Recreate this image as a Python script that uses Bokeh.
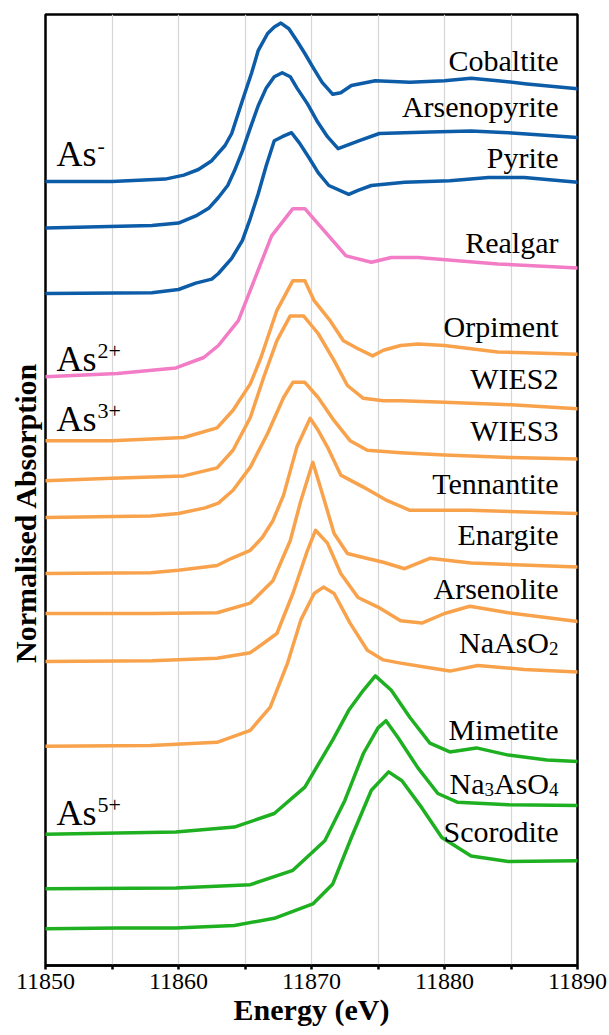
import numpy as np
from bokeh.plotting import figure
from bokeh.models import Range1d, FixedTicker, Label
from bokeh.embed import file_html
from bokeh.resources import INLINE

# ---- As K-edge XANES of reference compounds (energy in eV, normalised absorption) ----
e_cobaltite = [11850, 11855, 11859, 11860.4, 11861.5, 11862.5, 11863.5, 11864, 11864.8, 11865.5,
               11866, 11866.7, 11867.2, 11867.7, 11868.3, 11868.9, 11869.5, 11870.1, 11870.8,
               11871.6, 11872.2, 11873, 11874.8, 11877.4, 11880, 11882, 11884, 11886.2, 11890]
mu_cobaltite = [0, 0, 0.03, 0.08, 0.15, 0.26, 0.45, 0.6, 1.01, 1.36,
                1.64, 1.85, 1.93, 1.98, 1.91, 1.76, 1.6, 1.43, 1.24,
                1.09, 1.11, 1.2, 1.26, 1.24, 1.26, 1.29, 1.26, 1.22, 1.16]

e_arsenopyrite = [11850, 11858, 11860, 11861.3, 11862.3, 11863, 11863.7, 11864.2, 11864.8, 11865.4,
                  11866, 11866.6, 11867.2, 11867.8, 11868.4, 11868.9, 11869.7, 11870.4, 11871.2,
                  11872, 11872.8, 11873.6, 11875.1, 11878.9, 11882, 11884.8, 11890]
mu_arsenopyrite = [0, 0.03, 0.06, 0.15, 0.25, 0.38, 0.53, 0.71, 0.96, 1.25,
                   1.53, 1.75, 1.89, 1.94, 1.89, 1.75, 1.55, 1.34, 1.14,
                   0.99, 1.04, 1.09, 1.18, 1.2, 1.21, 1.19, 1.13]

e_pyrite = [11850, 11858, 11860, 11861.3, 11862.5, 11863, 11864, 11864.8, 11865.4, 11866,
            11866.6, 11867.2, 11867.8, 11868.5, 11869.1, 11869.8, 11870.5, 11871.3, 11872.8,
            11873.5, 11874.5, 11877, 11880.4, 11883.3, 11886, 11890]
mu_pyrite = [0, 0.01, 0.05, 0.13, 0.18, 0.25, 0.44, 0.66, 0.94, 1.25,
             1.6, 1.91, 1.96, 2.01, 1.88, 1.7, 1.51, 1.35, 1.24,
             1.29, 1.35, 1.39, 1.41, 1.45, 1.45, 1.39]

e_realgar = [11850, 11855.4, 11859.8, 11861.9, 11863, 11864.5, 11867, 11868.6, 11869.5,
             11872.6, 11874.5, 11876, 11878, 11884, 11890]
mu_realgar = [0, 0.04, 0.11, 0.24, 0.39, 0.7, 1.76, 2.1, 2.1,
              1.51, 1.43, 1.49, 1.49, 1.41, 1.36]

e_orpiment = [11850, 11855, 11860.4, 11862.9, 11864.1, 11865.4, 11866.2, 11867.4, 11868.6, 11869.5,
              11870.2, 11871.4, 11872.4, 11873.5, 11874.6, 11875.4, 11876.7, 11878, 11880, 11884, 11890]
mu_orpiment = [0, 0, 0.04, 0.16, 0.38, 0.71, 1.04, 1.63, 2.0, 2.0,
               1.75, 1.5, 1.25, 1.15, 1.06, 1.13, 1.19, 1.21, 1.19, 1.11, 1.08]

e_wies2 = [11850, 11855, 11860.4, 11862.9, 11864.1, 11865.4, 11866.4, 11867.4, 11868.4, 11869.4,
           11870.5, 11871.7, 11872.7, 11873.9, 11875.4, 11876.7, 11880, 11885, 11890]
mu_wies2 = [0, 0.03, 0.06, 0.16, 0.38, 0.79, 1.29, 1.75, 2.06, 2.06,
            1.84, 1.5, 1.19, 1.03, 1.0, 1.0, 0.98, 0.95, 0.9]

e_wies3 = [11850, 11857.9, 11860, 11862, 11863, 11864.1, 11865.4, 11866.7, 11867.9, 11868.6, 11869.5,
           11870.5, 11871.7, 11872.9, 11874.2, 11876.7, 11880, 11885, 11890]
mu_wies3 = [0, 0.02, 0.05, 0.12, 0.18, 0.34, 0.63, 1.05, 1.5, 1.69, 1.69,
            1.5, 1.21, 0.96, 0.84, 0.81, 0.78, 0.75, 0.73]

e_tennantite = [11850, 11857.9, 11860, 11862.9, 11864, 11865.4, 11866.3, 11867.1, 11867.9, 11868.9,
                11869.9, 11870.5, 11871.2, 11872.2, 11873.9, 11875.7, 11877.4, 11881.9, 11890]
mu_tennantite = [0, 0.01, 0.04, 0.1, 0.19, 0.29, 0.45, 0.66, 0.98, 1.58,
                 1.94, 1.79, 1.58, 1.23, 1.08, 0.91, 0.79, 0.79, 0.75]

e_enargite = [11850, 11858, 11862.9, 11865.4, 11867.1, 11868.4, 11869.2, 11870.1, 11870.9, 11871.7,
              11872.7, 11873.9, 11875.4, 11877, 11878.9, 11880.5, 11882, 11890]
mu_enargite = [0, 0, 0.01, 0.13, 0.41, 0.91, 1.41, 1.89, 1.45, 1.0,
               0.75, 0.7, 0.64, 0.56, 0.69, 0.66, 0.63, 0.58]

e_arsenolite = [11850, 11858, 11862.9, 11865.4, 11867.4, 11868.6, 11869.7, 11870.3, 11871.2, 11872.2,
                11873.5, 11875, 11876.7, 11878.3, 11880, 11881.9, 11884.8, 11890]
mu_arsenolite = [0, 0.01, 0.04, 0.11, 0.35, 0.85, 1.39, 1.64, 1.48, 1.1,
                 0.8, 0.68, 0.51, 0.48, 0.6, 0.69, 0.61, 0.5]

e_naaso2 = [11850, 11857.9, 11862.9, 11865.4, 11866.9, 11868.2, 11869.2, 11870.2, 11870.9, 11871.7,
            11872.9, 11874.2, 11875.4, 11876.7, 11878.5, 11880.4, 11882.5, 11886, 11890]
mu_naaso2 = [0, 0.01, 0.05, 0.2, 0.49, 1.04, 1.58, 1.91, 1.99, 1.91,
             1.54, 1.2, 1.08, 1.04, 0.99, 0.94, 1.01, 0.96, 0.93]

e_mimetite = [11850, 11859.8, 11864.2, 11867.2, 11869.5, 11871.6, 11872.8, 11873.9, 11874.8, 11876,
              11877.4, 11878.9, 11880.4, 11882.4, 11884.8, 11887.7, 11890]
mu_mimetite = [0, 0.03, 0.09, 0.26, 0.59, 1.18, 1.55, 1.8, 1.98, 1.8,
               1.46, 1.14, 1.03, 1.08, 0.99, 0.93, 0.91]

e_na3aso4 = [11850, 11859.8, 11865.4, 11868.6, 11871, 11872.5, 11873.9, 11875, 11875.6, 11876.5,
             11878, 11879.5, 11881, 11884.8, 11890]
mu_na3aso4 = [0, 0.01, 0.05, 0.23, 0.6, 1.1, 1.69, 2.01, 2.1, 1.89,
              1.51, 1.19, 1.08, 1.05, 1.04]

e_scorodite = [11850, 11855.4, 11859.8, 11864.2, 11867.2, 11870.1, 11871.6, 11873, 11874.5, 11875.8,
               11876.8, 11878.3, 11879.8, 11882, 11884.8, 11890]
mu_scorodite = [0, 0.01, 0.01, 0.04, 0.13, 0.31, 0.56, 1.14, 1.73, 1.96,
                1.85, 1.51, 1.14, 0.91, 0.84, 0.85]

names = ["Cobaltite", "Arsenopyrite", "Pyrite", "Realgar", "Orpiment", "WIES2", "WIES3",
         "Tennantite", "Enargite", "Arsenolite", "NaAsO2", "Mimetite", "Na3AsO4", "Scorodite"]
energies = [e_cobaltite, e_arsenopyrite, e_pyrite, e_realgar, e_orpiment, e_wies2, e_wies3,
            e_tennantite, e_enargite, e_arsenolite, e_naaso2, e_mimetite, e_na3aso4, e_scorodite]
absorptions = [mu_cobaltite, mu_arsenopyrite, mu_pyrite, mu_realgar, mu_orpiment, mu_wies2, mu_wies3,
               mu_tennantite, mu_enargite, mu_arsenolite, mu_naaso2, mu_mimetite, mu_na3aso4, mu_scorodite]
# vertical stacking offset of each spectrum
offsets = [9.8, 9.22, 8.4, 7.36, 6.56, 6.06, 5.6, 4.9, 4.4, 3.8, 2.74, 1.64, 0.96, 0.46]
# oxidation state group of each spectrum
groups = ["As-", "As-", "As-", "As2+", "As3+", "As3+", "As3+", "As3+", "As3+", "As3+", "As3+",
          "As5+", "As5+", "As5+"]
x_ticks = [11850, 11860, 11870, 11880, 11890]

# ---- styling ----
group_colors = {"As-": "#0c5ca8", "As2+": "#f27cc6", "As3+": "#f9a24c", "As5+": "#1fb022"}
SERIF = "Liberation Serif"
LABEL_SIZE = 30
SUB_SIZE = 19
AS_SIZE = 36
SUP_SIZE = 22
PX_PER_UNIT = 80.0  # vertical pixels per absorption unit
LIFT = 9 / PX_PER_UNIT  # raise text baselines slightly

# label baselines (data units) for the compound names
name_y = [11.2, 10.63, 9.99, 8.93, 7.88, 7.23, 6.58, 5.91, 5.28, 4.6, 3.93, 2.84, 2.16, 1.56]
# oxidation state group labels: (superscript, baseline y)
state_labels = [("-", 10.03), ("2+", 7.47), ("3+", 6.72), ("5+", 1.79)]

p = figure(width=609, height=1035, output_backend="svg", toolbar_location=None,
           x_range=Range1d(11850, 11890), y_range=Range1d(0, 951 / PX_PER_UNIT),
           min_border_left=45, min_border_right=32, min_border_top=14, min_border_bottom=70)
p.background_fill_color = "white"
p.border_fill_color = "white"
p.outline_line_color = "black"
p.outline_line_width = 2.5

# y axis: title only (trailing no-break spaces nudge the title below the frame centre)
ya = p.yaxis[0]
ya.ticker = FixedTicker(ticks=[])
ya.axis_line_color = None
ya.major_tick_line_color = None
ya.minor_tick_line_color = None
ya.major_label_text_font_size = "0px"
ya.axis_label = "Normalised Absorption" + "\u00a0" * 6
ya.axis_label_text_font = SERIF
ya.axis_label_text_font_size = "30px"
ya.axis_label_text_font_style = "bold"
ya.axis_label_text_color = "black"
ya.axis_label_standoff = 4
p.ygrid.visible = False

ax = p.xaxis[0]
ax.ticker = FixedTicker(ticks=x_ticks, minor_ticks=[11855, 11865, 11875, 11885])
ax.axis_line_color = "black"
ax.axis_line_width = 2.5
ax.major_tick_line_color = "black"
ax.major_tick_line_width = 2.5
ax.major_tick_out = 4
ax.major_tick_in = 0
ax.minor_tick_line_color = "black"
ax.minor_tick_line_width = 2.5
ax.minor_tick_out = 4
ax.minor_tick_in = 0
ax.major_label_text_font = SERIF
ax.major_label_text_font_size = "24px"
ax.major_label_text_color = "black"
ax.major_label_standoff = 4
ax.axis_label = "Energy (eV)"
ax.axis_label_text_font = SERIF
ax.axis_label_text_font_size = "30px"
ax.axis_label_text_font_style = "bold"
ax.axis_label_text_color = "black"
ax.axis_label_standoff = 1

p.xgrid.ticker = FixedTicker(ticks=[11855, 11860, 11865, 11870, 11875, 11880, 11885])
p.xgrid.grid_line_color = "#d6d6d6"
p.xgrid.grid_line_width = 1.2

for E, mu, off, g in zip(energies, absorptions, offsets, groups):
    y = np.asarray(mu) + off
    p.line(E, y, line_color=group_colors[g], line_width=3.5, line_join="round", line_cap="round")

# Times-like advance widths (em) used to lay out names with subscripts
ADV = {"N": 0.722, "a": 0.444, "A": 0.722, "s": 0.389, "O": 0.722}


def text_width(s, size):
    return sum(ADV.get(c, 0.5) for c in s) * size


def add_label(pieces, y, right_offset=-19):
    """pieces: list of (text, is_subscript), laid out right to left from the frame's right edge."""
    r = right_offset
    for txt, sub in reversed(pieces):
        if sub:
            w = 0.5 * SUB_SIZE * len(txt)
            p.add_layout(Label(x=11890, y=y - 6 / PX_PER_UNIT, x_offset=r - w, text=txt,
                               text_font=SERIF, text_font_size=f"{SUB_SIZE}px", text_color="black",
                               text_align="left", text_baseline="alphabetic"))
            r -= w
        else:
            p.add_layout(Label(x=11890, y=y, x_offset=r, text=txt,
                               text_font=SERIF, text_font_size=f"{LABEL_SIZE}px", text_color="black",
                               text_align="right", text_baseline="alphabetic"))
            r -= text_width(txt, LABEL_SIZE)


label_pieces = {
    "NaAsO2": [("NaAsO", False), ("2", True)],
    "Na3AsO4": [("Na", False), ("3", True), ("AsO", False), ("4", True)],
}
for name, ly in zip(names, name_y):
    add_label(label_pieces.get(name, [(name, False)]), ly + LIFT)

# oxidation state labels on the left
for sup, ly in state_labels:
    p.add_layout(Label(x=11850, y=ly + LIFT, x_offset=11, text="As", text_font=SERIF,
                       text_font_size=f"{AS_SIZE}px", text_color="black",
                       text_align="left", text_baseline="alphabetic"))
    p.add_layout(Label(x=11850, y=ly + LIFT + 8 / PX_PER_UNIT, x_offset=12 + 1.111 * AS_SIZE, text=sup,
                       text_font=SERIF, text_font_size=f"{SUP_SIZE}px", text_color="black",
                       text_align="left", text_baseline="alphabetic"))

open("out.html", "w").write(file_html(p, INLINE))
